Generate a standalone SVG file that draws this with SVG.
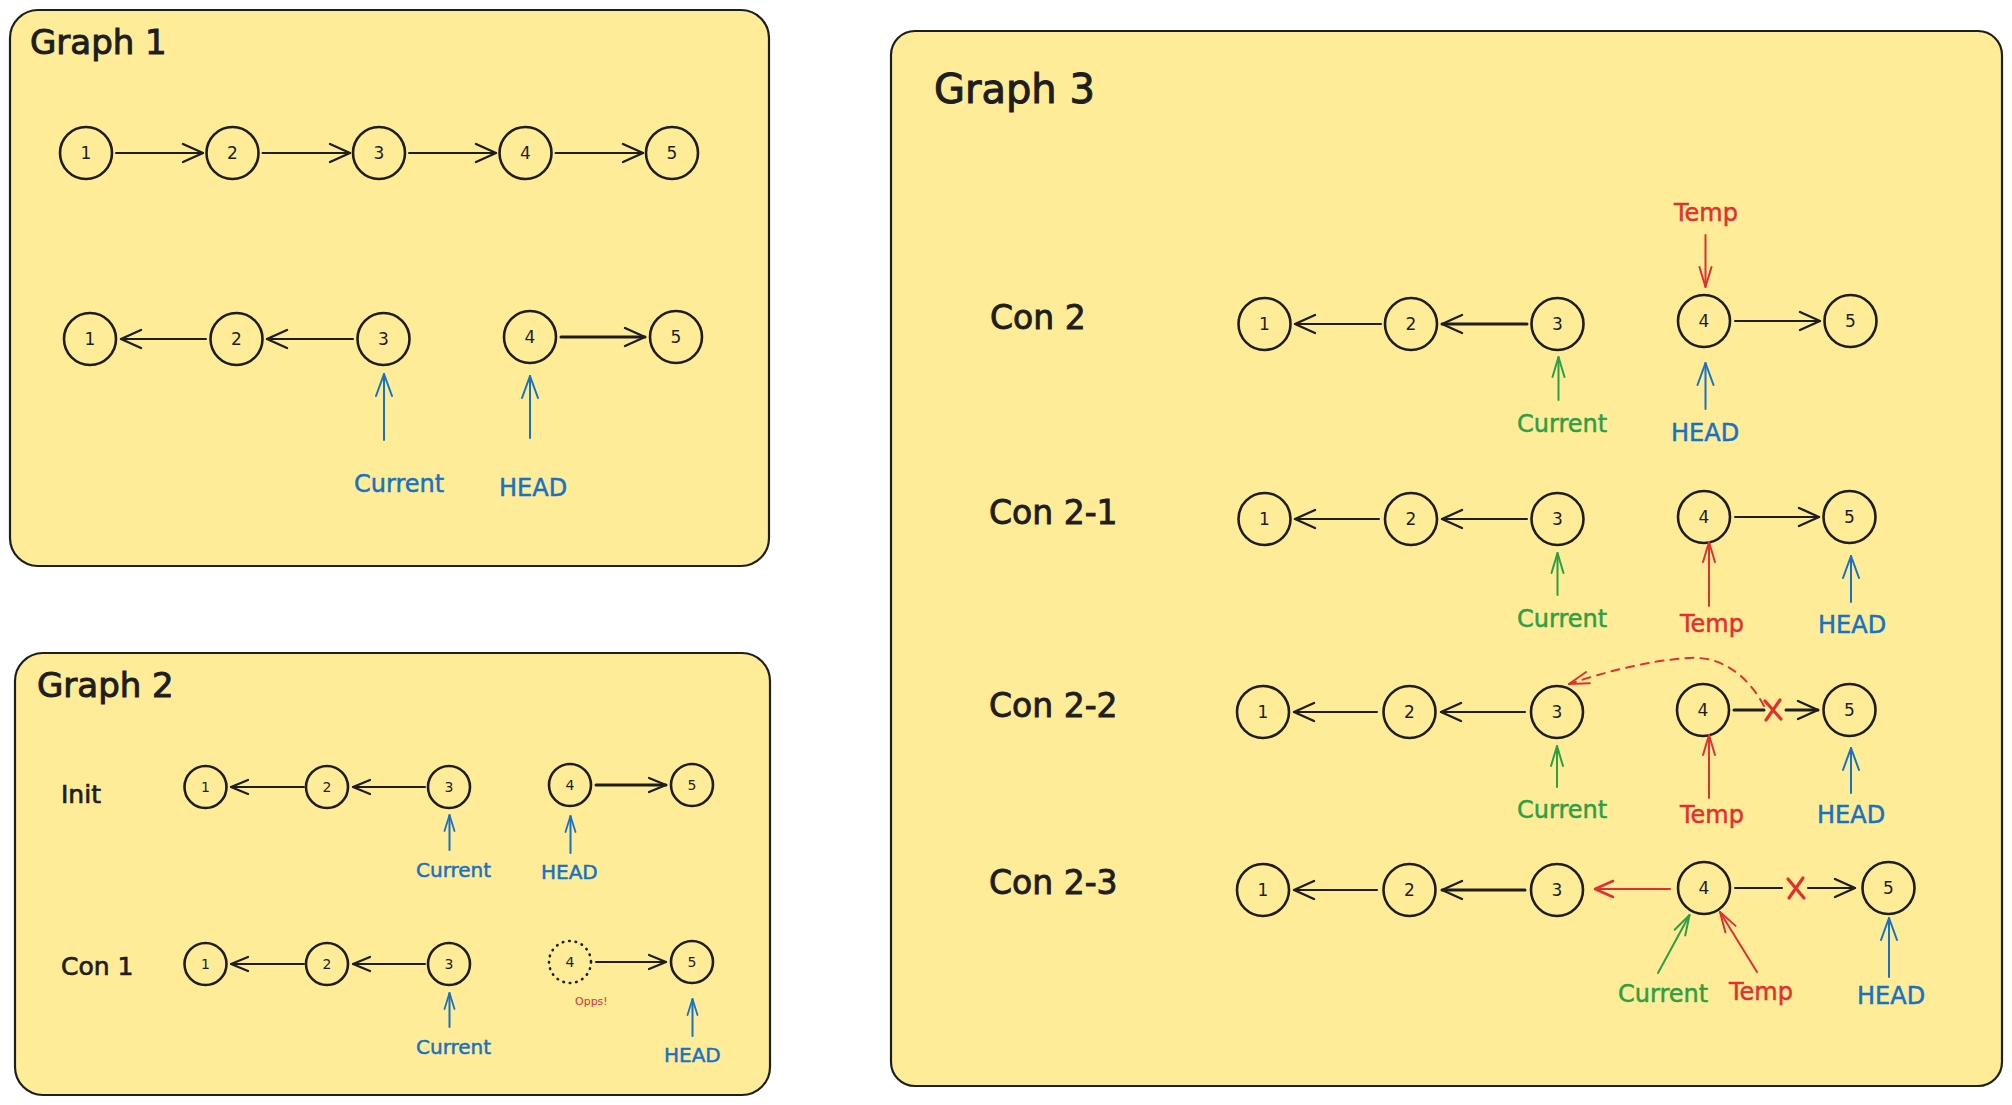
<svg xmlns="http://www.w3.org/2000/svg" width="2012" height="1105" viewBox="0 0 2012 1105">
<style>
text{font-family:"DejaVu Sans","Liberation Sans",sans-serif;}
.box{fill:#ffec99;stroke:#1e1e1e;stroke-width:2.2;}
.node circle{fill:none;stroke:#1e1e1e;stroke-width:2.6;}
.node text{fill:#1e1e1e;font-size:17px;text-anchor:middle;dominant-baseline:central;}
.g2 .node text{font-size:14px;}
.title{fill:#1e1e1e;font-size:34px;stroke:#1e1e1e;stroke-width:1;}
.lbl{fill:#1e1e1e;font-size:33px;stroke:#1e1e1e;stroke-width:0.9;}
.lbl2{fill:#1e1e1e;font-size:25px;stroke:#1e1e1e;stroke-width:0.7;}
.k{stroke:#1e1e1e;stroke-width:2;fill:none;stroke-linecap:round;}
.kt{stroke:#1e1e1e;stroke-width:3;fill:none;stroke-linecap:round;}
.b{stroke:#1971c2;stroke-width:2;fill:none;stroke-linecap:round;}
.gr{stroke:#2f9e44;stroke-width:2;fill:none;stroke-linecap:round;}
.r{stroke:#e03131;stroke-width:2;fill:none;stroke-linecap:round;}
.tb{fill:#1971c2;font-size:24px;stroke:#1971c2;stroke-width:0.5;}
.tg{fill:#2f9e44;font-size:24px;stroke:#2f9e44;stroke-width:0.5;}
.tr{fill:#e03131;font-size:24px;stroke:#e03131;stroke-width:0.5;}
.s20{font-size:20px;}
</style>
<defs>
<marker id="mk" markerUnits="userSpaceOnUse" markerWidth="30" markerHeight="30" viewBox="-25 -15 30 30" refX="0" refY="0" orient="auto"><path d="M-20,-9 L0,0 L-20,9" fill="none" stroke="#1e1e1e" stroke-width="2.4" stroke-linecap="round" stroke-linejoin="round"/></marker>
<marker id="mks" markerUnits="userSpaceOnUse" markerWidth="30" markerHeight="30" viewBox="-25 -15 30 30" refX="0" refY="0" orient="auto"><path d="M-17,-7 L0,0 L-17,7" fill="none" stroke="#1e1e1e" stroke-width="2.2" stroke-linecap="round" stroke-linejoin="round"/></marker>
<marker id="mb" markerUnits="userSpaceOnUse" markerWidth="30" markerHeight="30" viewBox="-25 -15 30 30" refX="0" refY="0" orient="auto"><path d="M-22,-8 L0,0 L-22,8" fill="none" stroke="#1971c2" stroke-width="2" stroke-linecap="round" stroke-linejoin="round"/></marker>
<marker id="mbs" markerUnits="userSpaceOnUse" markerWidth="30" markerHeight="30" viewBox="-25 -15 30 30" refX="0" refY="0" orient="auto"><path d="M-16,-5 L0,0 L-16,5" fill="none" stroke="#1971c2" stroke-width="1.8" stroke-linecap="round" stroke-linejoin="round"/></marker>
<marker id="mg" markerUnits="userSpaceOnUse" markerWidth="30" markerHeight="30" viewBox="-25 -15 30 30" refX="0" refY="0" orient="auto"><path d="M-20,-6 L0,0 L-20,6" fill="none" stroke="#2f9e44" stroke-width="2" stroke-linecap="round" stroke-linejoin="round"/></marker>
<marker id="mr" markerUnits="userSpaceOnUse" markerWidth="30" markerHeight="30" viewBox="-25 -15 30 30" refX="0" refY="0" orient="auto"><path d="M-20,-6 L0,0 L-20,6" fill="none" stroke="#e03131" stroke-width="2" stroke-linecap="round" stroke-linejoin="round"/></marker>
<marker id="mrt" markerUnits="userSpaceOnUse" markerWidth="30" markerHeight="30" viewBox="-25 -15 30 30" refX="0" refY="0" orient="auto"><path d="M-18,-8 L0,0 L-18,8" fill="none" stroke="#e03131" stroke-width="2.6" stroke-linecap="round" stroke-linejoin="round"/></marker>
</defs>
<rect width="2012" height="1105" fill="#ffffff"/>

<!-- Graph 1 -->
<g id="graph1">
<rect class="box" x="10" y="10" width="759" height="556" rx="28"/>
<text class="title" x="30" y="54">Graph 1</text>
<g id="g1-r1-n1" class="node"><circle cx="86" cy="153" r="26"/><text x="86" y="153">1</text></g>
<g id="g1-r1-n2" class="node"><circle cx="232.5" cy="153" r="26"/><text x="232.5" y="153">2</text></g>
<g id="g1-r1-n3" class="node"><circle cx="379" cy="153" r="26"/><text x="379" y="153">3</text></g>
<g id="g1-r1-n4" class="node"><circle cx="525.5" cy="153" r="26"/><text x="525.5" y="153">4</text></g>
<g id="g1-r1-n5" class="node"><circle cx="672" cy="153" r="26"/><text x="672" y="153">5</text></g>
<g id="g1-r2-n1" class="node"><circle cx="90" cy="339" r="26"/><text x="90" y="339">1</text></g>
<g id="g1-r2-n2" class="node"><circle cx="236.5" cy="339" r="26"/><text x="236.5" y="339">2</text></g>
<g id="g1-r2-n3" class="node"><circle cx="383.5" cy="339" r="26"/><text x="383.5" y="339">3</text></g>
<g id="g1-r2-n4" class="node"><circle cx="530" cy="337" r="26"/><text x="530" y="337">4</text></g>
<g id="g1-r2-n5" class="node"><circle cx="676" cy="337" r="26"/><text x="676" y="337">5</text></g>
<text class="tb" x="354" y="492">Current</text>
<text class="tb" x="499" y="496">HEAD</text>
</g>

<!-- Graph 2 -->
<g id="graph2" class="g2">
<rect class="box" x="15" y="653" width="755" height="442" rx="28"/>
<text class="title" x="37" y="697">Graph 2</text>
<text class="lbl2" x="61" y="803">Init</text>
<text class="lbl2" x="61" y="975">Con 1</text>
<g id="g2-i-n1" class="node"><circle cx="205.5" cy="787" r="21"/><text x="205.5" y="787">1</text></g>
<g id="g2-i-n2" class="node"><circle cx="327" cy="787" r="21"/><text x="327" y="787">2</text></g>
<g id="g2-i-n3" class="node"><circle cx="449" cy="787" r="21"/><text x="449" y="787">3</text></g>
<g id="g2-i-n4" class="node"><circle cx="570" cy="785" r="21"/><text x="570" y="785">4</text></g>
<g id="g2-i-n5" class="node"><circle cx="692" cy="785" r="21"/><text x="692" y="785">5</text></g>
<g id="g2-c-n1" class="node"><circle cx="205.5" cy="964" r="21"/><text x="205.5" y="964">1</text></g>
<g id="g2-c-n2" class="node"><circle cx="327" cy="964" r="21"/><text x="327" y="964">2</text></g>
<g id="g2-c-n3" class="node"><circle cx="449" cy="964" r="21"/><text x="449" y="964">3</text></g>
<g id="g2-c-n4" class="node"><circle cx="570" cy="962" r="21" style="stroke-dasharray:0.5 6;stroke-linecap:round;stroke-width:2.6"/><text x="570" y="962">4</text></g>
<g id="g2-c-n5" class="node"><circle cx="692" cy="962" r="21"/><text x="692" y="962">5</text></g>
<text x="575" y="1005" fill="#e03131" font-size="11">Opps!</text>
<text class="tb s20" x="416" y="877">Current</text>
<text class="tb s20" x="541" y="879">HEAD</text>
<text class="tb s20" x="416" y="1054">Current</text>
<text class="tb s20" x="664" y="1062">HEAD</text>
</g>

<!-- Graph 3 -->
<g id="graph3">
<rect class="box" x="891" y="31" width="1111" height="1055" rx="24"/>
<text class="title" x="934" y="103" style="font-size:40px">Graph 3</text>
<text class="lbl" x="990" y="329">Con 2</text>
<text class="lbl" x="989" y="524">Con 2-1</text>
<text class="lbl" x="989" y="717">Con 2-2</text>
<text class="lbl" x="989" y="894">Con 2-3</text>

<g id="g3-a-n1" class="node"><circle cx="1264.5" cy="324" r="26"/><text x="1264.5" y="324">1</text></g>
<g id="g3-a-n2" class="node"><circle cx="1411" cy="324" r="26"/><text x="1411" y="324">2</text></g>
<g id="g3-a-n3" class="node"><circle cx="1557.5" cy="324" r="26"/><text x="1557.5" y="324">3</text></g>
<g id="g3-a-n4" class="node"><circle cx="1704" cy="321" r="26"/><text x="1704" y="321">4</text></g>
<g id="g3-a-n5" class="node"><circle cx="1850.5" cy="321" r="26"/><text x="1850.5" y="321">5</text></g>
<text class="tr" x="1674" y="221">Temp</text>
<text class="tg" x="1517" y="432">Current</text>
<text class="tb" x="1671" y="441">HEAD</text>

<g id="g3-b-n1" class="node"><circle cx="1264.5" cy="519" r="26"/><text x="1264.5" y="519">1</text></g>
<g id="g3-b-n2" class="node"><circle cx="1411" cy="519" r="26"/><text x="1411" y="519">2</text></g>
<g id="g3-b-n3" class="node"><circle cx="1557.5" cy="519" r="26"/><text x="1557.5" y="519">3</text></g>
<g id="g3-b-n4" class="node"><circle cx="1704" cy="517" r="26"/><text x="1704" y="517">4</text></g>
<g id="g3-b-n5" class="node"><circle cx="1849.5" cy="517" r="26"/><text x="1849.5" y="517">5</text></g>
<text class="tg" x="1517" y="627">Current</text>
<text class="tr" x="1680" y="632">Temp</text>
<text class="tb" x="1818" y="633">HEAD</text>

<g id="g3-c-n1" class="node"><circle cx="1263" cy="712" r="26"/><text x="1263" y="712">1</text></g>
<g id="g3-c-n2" class="node"><circle cx="1409.5" cy="712" r="26"/><text x="1409.5" y="712">2</text></g>
<g id="g3-c-n3" class="node"><circle cx="1557" cy="712" r="26"/><text x="1557" y="712">3</text></g>
<g id="g3-c-n4" class="node"><circle cx="1703" cy="710" r="26"/><text x="1703" y="710">4</text></g>
<g id="g3-c-n5" class="node"><circle cx="1849.5" cy="710" r="26"/><text x="1849.5" y="710">5</text></g>
<text class="tg" x="1517" y="818">Current</text>
<text class="tr" x="1680" y="823">Temp</text>
<text class="tb" x="1817" y="823">HEAD</text>

<g id="g3-d-n1" class="node"><circle cx="1263" cy="890" r="26"/><text x="1263" y="890">1</text></g>
<g id="g3-d-n2" class="node"><circle cx="1409.5" cy="890" r="26"/><text x="1409.5" y="890">2</text></g>
<g id="g3-d-n3" class="node"><circle cx="1557" cy="890" r="26"/><text x="1557" y="890">3</text></g>
<g id="g3-d-n4" class="node"><circle cx="1704" cy="888" r="26"/><text x="1704" y="888">4</text></g>
<g id="g3-d-n5" class="node"><circle cx="1888.5" cy="888" r="26"/><text x="1888.5" y="888">5</text></g>
<text class="tg" x="1618" y="1002">Current</text>
<text class="tr" x="1729" y="1000">Temp</text>
<text class="tb" x="1857" y="1004">HEAD</text>
</g>

<!-- Connectors -->
<g id="connectors">
<!-- Graph 1 row 1 -->
<line class="k" x1="116" y1="153" x2="203" y2="153" marker-end="url(#mk)"/>
<line class="k" x1="262.5" y1="153" x2="350" y2="153" marker-end="url(#mk)"/>
<line class="k" x1="409" y1="153" x2="496" y2="153" marker-end="url(#mk)"/>
<line class="k" x1="555.5" y1="153" x2="643" y2="153" marker-end="url(#mk)"/>
<!-- Graph 1 row 2 -->
<line class="k" x1="206" y1="339" x2="121" y2="339" marker-end="url(#mk)"/>
<line class="k" x1="353" y1="339" x2="267" y2="339" marker-end="url(#mk)"/>
<line class="kt" x1="561" y1="337" x2="645" y2="337" marker-end="url(#mk)"/>
<line class="b" x1="384" y1="440" x2="384" y2="374" marker-end="url(#mb)"/>
<line class="b" x1="530" y1="438" x2="530" y2="376" marker-end="url(#mb)"/>
<!-- Graph 2 -->
<line class="k" x1="304" y1="787" x2="231" y2="787" marker-end="url(#mks)"/>
<line class="k" x1="425" y1="787" x2="353" y2="787" marker-end="url(#mks)"/>
<line class="kt" x1="596" y1="785" x2="666" y2="785" marker-end="url(#mks)"/>
<line class="b" x1="449.5" y1="850" x2="449.5" y2="815" marker-end="url(#mbs)"/>
<line class="b" x1="570.5" y1="853" x2="570.5" y2="816" marker-end="url(#mbs)"/>
<line class="k" x1="304" y1="964" x2="231" y2="964" marker-end="url(#mks)"/>
<line class="k" x1="425" y1="964" x2="353" y2="964" marker-end="url(#mks)"/>
<line class="k" x1="596" y1="962" x2="666" y2="962" marker-end="url(#mks)"/>
<line class="b" x1="449.5" y1="1027" x2="449.5" y2="993" marker-end="url(#mbs)"/>
<line class="b" x1="692.5" y1="1036" x2="692.5" y2="999" marker-end="url(#mbs)"/>
<!-- Graph 3 Con 2 -->
<line class="k" x1="1381" y1="324" x2="1295" y2="324" marker-end="url(#mk)"/>
<line class="kt" x1="1527" y1="324" x2="1442" y2="324" marker-end="url(#mk)"/>
<line class="k" x1="1735" y1="321" x2="1820" y2="321" marker-end="url(#mk)"/>
<line class="r" x1="1705.5" y1="235" x2="1705.5" y2="287" marker-end="url(#mr)"/>
<line class="gr" x1="1558.5" y1="400" x2="1558.5" y2="357" marker-end="url(#mg)"/>
<line class="b" x1="1705.5" y1="409" x2="1705.5" y2="363" marker-end="url(#mb)"/>
<!-- Con 2-1 -->
<line class="k" x1="1379" y1="519" x2="1295" y2="519" marker-end="url(#mk)"/>
<line class="k" x1="1527" y1="519" x2="1442" y2="519" marker-end="url(#mk)"/>
<line class="k" x1="1735" y1="517" x2="1819" y2="517" marker-end="url(#mk)"/>
<line class="gr" x1="1557.5" y1="595" x2="1557.5" y2="553" marker-end="url(#mg)"/>
<line class="r" x1="1709" y1="606" x2="1709" y2="542" marker-end="url(#mr)"/>
<line class="b" x1="1851" y1="602" x2="1851" y2="556" marker-end="url(#mb)"/>
<!-- Con 2-2 -->
<line class="k" x1="1377" y1="712" x2="1294" y2="712" marker-end="url(#mk)"/>
<line class="k" x1="1525" y1="712" x2="1441" y2="712" marker-end="url(#mk)"/>
<line class="kt" x1="1734" y1="710" x2="1764" y2="710"/>
<line class="kt" x1="1786" y1="710" x2="1818" y2="710" marker-end="url(#mk)"/>
<path class="r" d="M1764,706 C1748,676 1722,656 1690,658 C1650,660 1605,672 1569,684" stroke-dasharray="8 7" marker-end="url(#mr)"/>
<path d="M1765,701 L1781,719 M1780,700 L1766,720" stroke="#e03131" stroke-width="3.2" fill="none" stroke-linecap="round"/>
<line class="gr" x1="1557" y1="787" x2="1557" y2="746" marker-end="url(#mg)"/>
<line class="r" x1="1709" y1="798" x2="1709" y2="735" marker-end="url(#mr)"/>
<line class="b" x1="1851" y1="793" x2="1851" y2="748" marker-end="url(#mb)"/>
<!-- Con 2-3 -->
<line class="k" x1="1377" y1="890" x2="1294" y2="890" marker-end="url(#mk)"/>
<line class="kt" x1="1525" y1="890" x2="1442" y2="890" marker-end="url(#mk)"/>
<line class="r" x1="1670" y1="889" x2="1595" y2="889" stroke-width="2.6" marker-end="url(#mrt)"/>
<line class="k" x1="1735" y1="888" x2="1782" y2="888" stroke-width="2.4"/>
<line class="k" x1="1808" y1="888" x2="1855" y2="888" stroke-width="2.4" marker-end="url(#mk)"/>
<path d="M1788,879 L1804,898 M1803,878 L1789,898" stroke="#e03131" stroke-width="3.2" fill="none" stroke-linecap="round"/>
<line class="gr" x1="1658" y1="973" x2="1689.5" y2="915" marker-end="url(#mg)"/>
<line class="r" x1="1757" y1="972" x2="1720" y2="912" marker-end="url(#mr)"/>
<line class="b" x1="1889" y1="977" x2="1889" y2="918" marker-end="url(#mb)"/>
</g>
</svg>
